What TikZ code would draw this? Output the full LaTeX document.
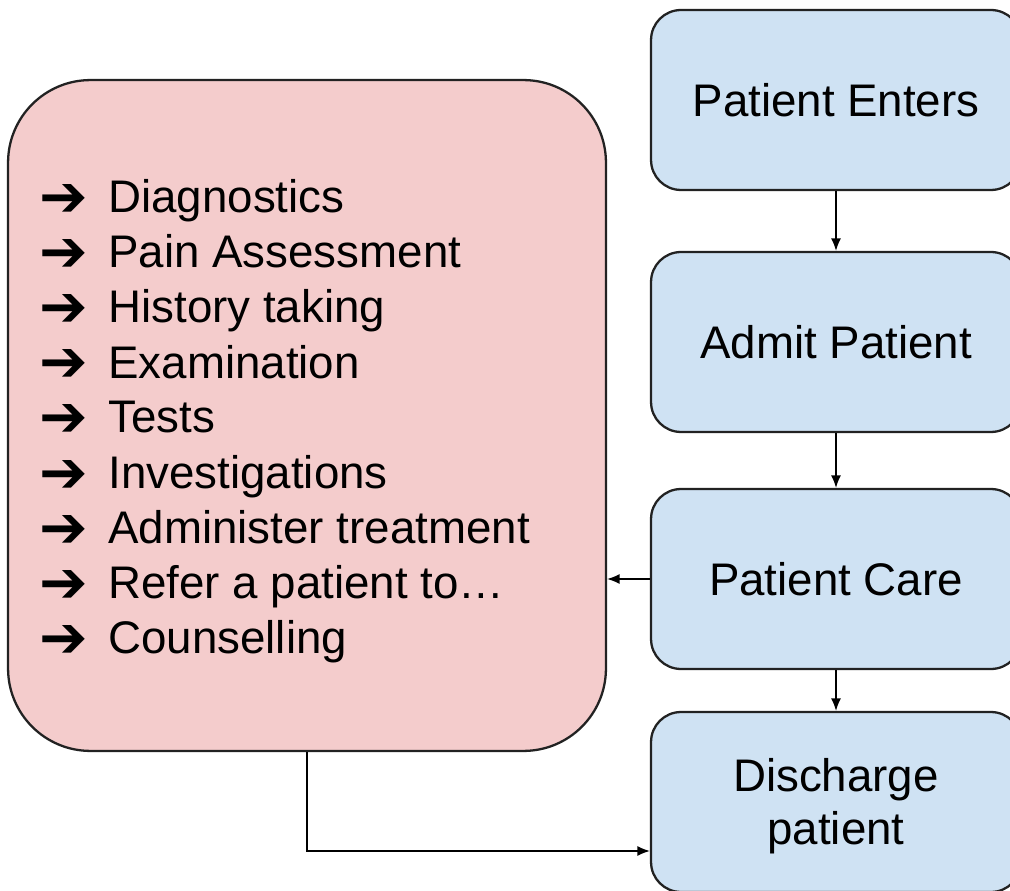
\documentclass[tikz,border=0pt]{standalone}
\usepackage{fontspec}
\setmainfont{Liberation Sans}
\newfontfamily\arrowfont{DejaVu Sans}
\usepackage{tikz}
\usetikzlibrary{arrows.meta, calc, positioning}
\tikzset{>={Latex[length=2.5mm,width=2mm]}}
\definecolor{carepink}{HTML}{F4CCCC}
\definecolor{stepblue}{HTML}{CFE2F3}
\definecolor{edgegray}{HTML}{222222}

\begin{document}
\begin{tikzpicture}[x=0.02cm, y=-0.02cm,
	stage/.style={draw=edgegray, line width=1.3pt, fill=stepblue, rounded corners=0.6cm,
		minimum width=7.4cm, minimum height=3.6cm, align=center,
		font=\fontsize{26}{30.5}\selectfont},
	carebox/.style={draw=edgegray, line width=1.3pt, fill=carepink, rounded corners=1.65cm,
		minimum width=11.96cm, minimum height=13.42cm},
	listtext/.style={anchor=base west, inner sep=0pt, font=\fontsize{26}{31}\selectfont},
	link/.style={->, line width=0.8pt, black}]
	\useasboundingbox (0,0) rectangle (1010,891);
	\begin{scope}
		\clip (0,0) rectangle (1010,891);
		% patient steps
		\node[stage] (enter) at (836,100) {Patient Enters};
		\node[stage] (admit) at (836,342) {Admit Patient};
		\node[stage] (care) at (836,579) {Patient Care};
		\node[stage] (discharge) at (836,802) {};
		\node[align=center, font=\fontsize{26}{30.5}\selectfont] (dischargetext) at (836,806) {Discharge\\patient};
		% care activities
		\node[carebox] (activities) at (307,415.5) {};
		\foreach \i/\item in {0/Diagnostics, 1/Pain Assessment, 2/History taking,
			3/Examination, 4/Tests, 5/Investigations, 6/Administer treatment,
			7/Refer a patient to\dots, 8/Counselling}{
			\node[listtext] (bullet\i) at (39,217+55*\i) {\arrowfont\bfseries\fontsize{33}{33}\selectfont ➔};
			\node[listtext] (item\i) at (108,213+55*\i) {\item};
		}
		\draw[link] (enter) -- (admit);
		\draw[link] (admit) -- (care);
		\draw[link] (care) -- (discharge);
		\draw[link] (care.west) -- (care.west -| activities.east);
		\coordinate (dischargein) at ([yshift=-0.98cm]discharge.west);
		\draw[link] (activities.south) |- (dischargein);
	\end{scope}
\end{tikzpicture}
\end{document}
